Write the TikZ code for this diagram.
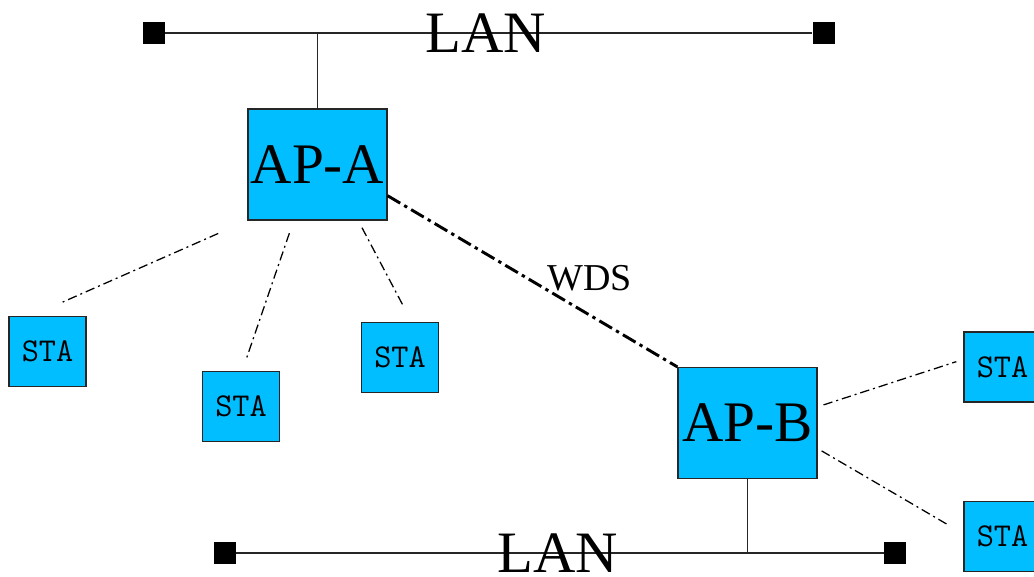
\documentclass[tikz,border=0pt]{standalone}
\usepackage{fontspec}
\setmainfont{Liberation Serif}
\usepackage{tikz}
\usetikzlibrary{calc}
\definecolor{apblue}{RGB}{0,190,255}

\begin{document}
\begin{tikzpicture}[x=0.75pt,y=-0.75pt,
        ap/.style={draw=black!85, fill=apblue, line width=1.1pt, minimum width=104pt, minimum height=83pt, inner sep=0pt, font=\fontsize{43}{43}\selectfont},
        sta/.style={draw=black!85, fill=apblue, line width=1.1pt, minimum width=57.75pt, minimum height=52.5pt, inner sep=0pt, font=\ttfamily\fontsize{25}{25}\selectfont},
        lanend/.style={fill=black, minimum size=16.5pt, inner sep=0pt},
        wire/.style={line width=1.1pt, black!85},
        radio/.style={line width=0.95pt, dash pattern=on 7pt off 3pt on 1.5pt off 3pt},
        wds/.style={line width=2.2pt, dash pattern=on 11pt off 3.5pt on 2.5pt off 3.5pt},
        lan/.style={anchor=base, inner sep=0pt, font=\fontsize{44}{44}\selectfont}]
            \useasboundingbox (0,0) rectangle (1034,576);
            \node[lanend] at (153.5,33) (lanAl) {};
            \node[lanend] at (823.5,33) (lanAr) {};
            \node[lanend] at (224.5,553) (lanBl) {};
            \node[lanend] at (895,553) (lanBr) {};
            \draw[wire] (lanAl) -- (lanAr);
            \draw[wire] (lanBl) -- (lanBr);
            \node[ap] at (317.5,164.5) (apA) {AP-A};
            \node[ap] at (747.5,423) (apB) {AP-B};
            \draw[wire] (apA.north) -- (apA.north |- lanAl.center);
            \draw[wire] (apB.south) -- (apB.south |- lanBl.center);
            \node[lan] at (486,52) (lanAtxt) {LAN};
            \node[lan] at (557.5,572) (lanBtxt) {LAN};
            \node[sta] at (47.5,351.5) (sta1) {STA};
            \node[sta] at (241,406.5) (sta2) {STA};
            \node[sta] at (400,357.5) (sta3) {STA};
            \node[sta] at (1002.5,367) (sta4) {STA};
            \node[sta] at (1002.5,536.5) (sta5) {STA};
            \draw[radio, shorten <=24pt, shorten >=25.5pt] (apA.south west) -- (sta1.114);
            \draw[radio, shorten <=10pt, shorten >=8.7pt] (apA.247.5) -- (sta2.88);
            \draw[radio, shorten <=6pt, shorten >=13.5pt] (apA.306) -- (sta3.72);
            \draw[radio, shorten <=4.7pt, shorten >=5.5pt] (apB.13) -- (sta4.169);
            \draw[radio, shorten <=3.5pt, shorten >=13pt] (apB.340) -- (sta5.176);
            \draw[wds] (apA.-24) -- (apB.north west);
            \node[anchor=base, font=\fontsize{28.5}{28.5}\selectfont] at (589.5,290) (wds) {WDS};
        \end{tikzpicture}
\end{document}
